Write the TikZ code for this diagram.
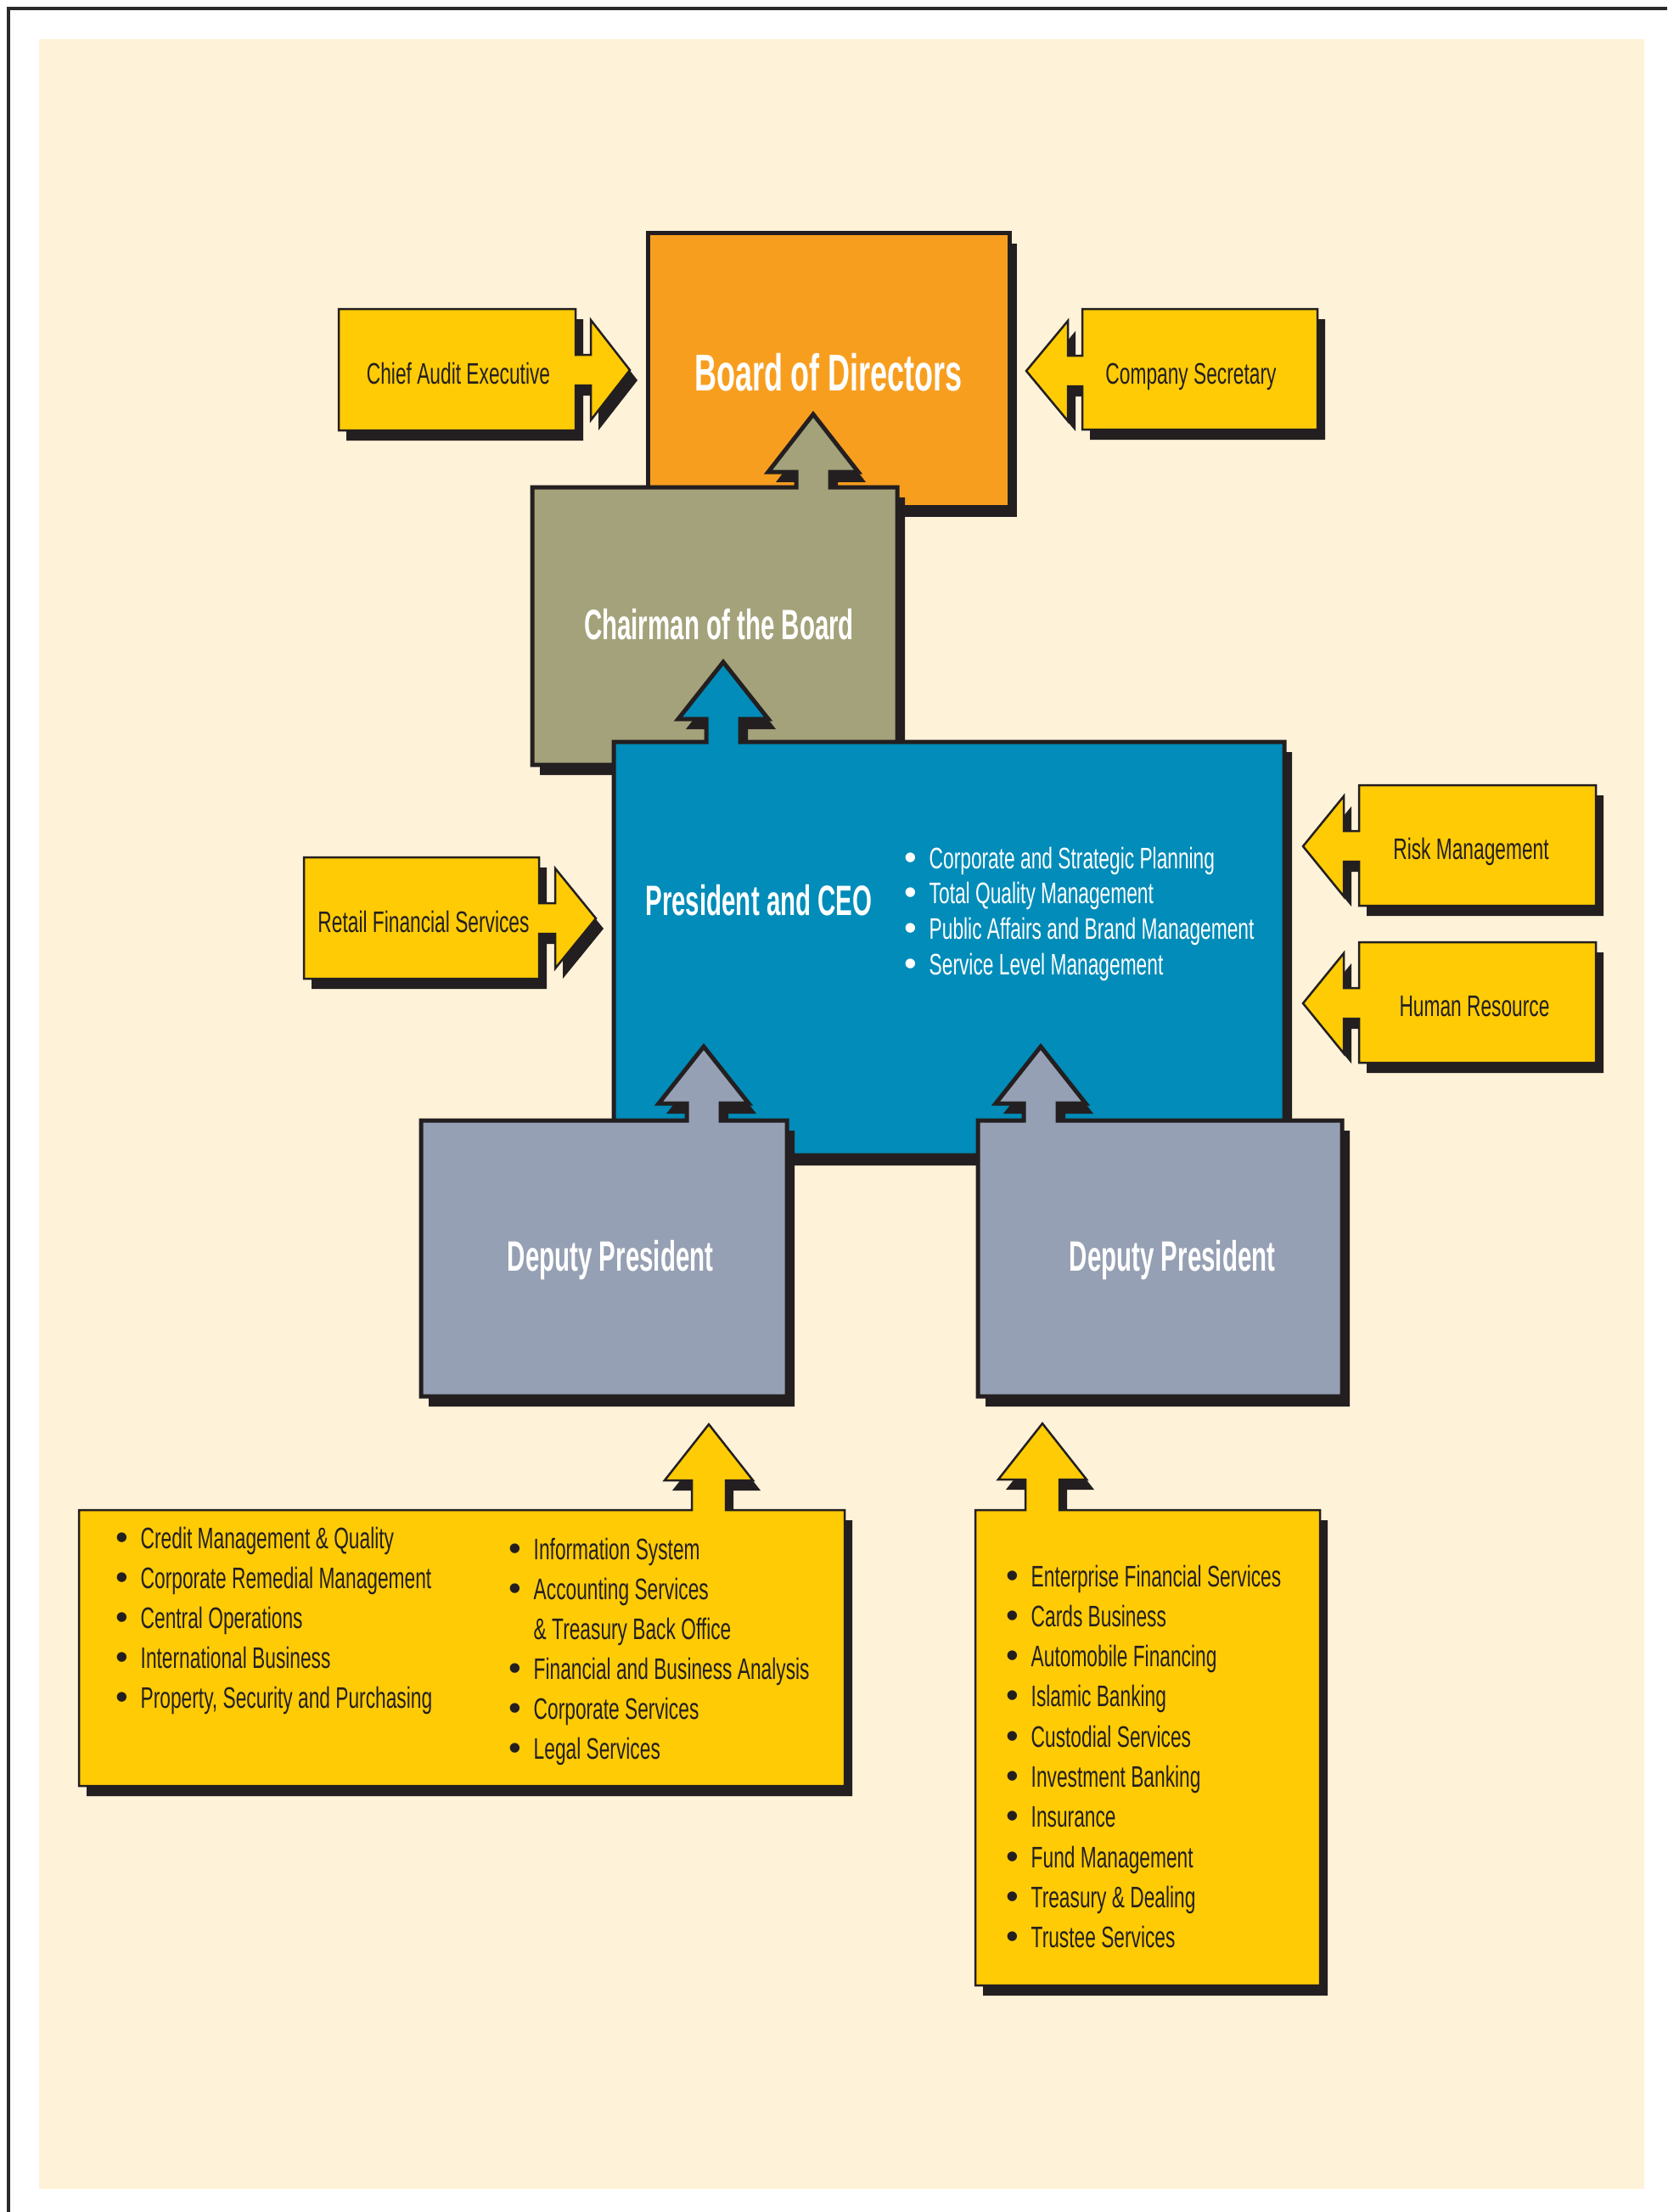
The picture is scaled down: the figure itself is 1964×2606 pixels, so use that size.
\documentclass[tikz,border=0pt]{standalone}
\usepackage{fontspec}
\setmainfont{Liberation Sans}
\newfontfamily\cond[FakeStretch=0.65]{Liberation Sans}
\newfontfamily\condb[FakeStretch=0.59]{Liberation Sans}
\definecolor{cream}{HTML}{FEF2D9}
\definecolor{orng}{HTML}{F89E1F}
\definecolor{olive}{HTML}{A4A27A}
\definecolor{cblue}{HTML}{018CB9}
\definecolor{dgray}{HTML}{96A0B4}
\definecolor{yel}{HTML}{FFCB05}
\definecolor{ink}{HTML}{231F20}
\definecolor{frame}{HTML}{2B2A2A}

\newcommand{\bul}{\makebox[29.5pt][l]{\normalfont\fontsize{42}{42}\selectfont\raisebox{-1pt}{•}}}

\tikzset{
  shadowfill/.style={fill=ink},
  bigline/.style={draw=ink, line width=5pt},
  smallline/.style={draw=ink, line width=2.5pt},
  headtext/.style={font=\condb\bfseries\fontsize{50}{60}\selectfont, text=white, inner sep=0pt, anchor=base},
  boxtext/.style={font=\cond\fontsize{35}{42}\selectfont, text=ink, inner sep=0pt, anchor=base},
  itemtext/.style={font=\cond\fontsize{35}{42}\selectfont, text=ink, inner sep=0pt, anchor=base west},
}

% box with arrow to the right: #1 style, #2 x1, #3 y1, #4 x2, #5 y2, #6 c, #7 a (head base), #8 tip
\newcommand{\rbox}[8]{%
  \fill[shadowfill, shift={(9,12)}] (#2,#3) -- (#4,#3) -- (#4,{#6-18}) -- (#7,{#6-18}) -- (#7,{#6-59}) -- (#8,#6) -- (#7,{#6+59}) -- (#7,{#6+18}) -- (#4,{#6+18}) -- (#4,#5) -- (#2,#5) -- cycle;
  \path[#1] (#2,#3) -- (#4,#3) -- (#4,{#6-18}) -- (#7,{#6-18}) -- (#7,{#6-59}) -- (#8,#6) -- (#7,{#6+59}) -- (#7,{#6+18}) -- (#4,{#6+18}) -- (#4,#5) -- (#2,#5) -- cycle;
}
% box with arrow to the left: #2 x1 (left), #4 x2 (right)
\newcommand{\lbox}[8]{%
  \fill[shadowfill, shift={(9,12)}] (#4,#3) -- (#2,#3) -- (#2,{#6-18}) -- (#7,{#6-18}) -- (#7,{#6-59}) -- (#8,#6) -- (#7,{#6+59}) -- (#7,{#6+18}) -- (#2,{#6+18}) -- (#2,#5) -- (#4,#5) -- cycle;
  \path[#1] (#4,#3) -- (#2,#3) -- (#2,{#6-18}) -- (#7,{#6-18}) -- (#7,{#6-59}) -- (#8,#6) -- (#7,{#6+59}) -- (#7,{#6+18}) -- (#2,{#6+18}) -- (#2,#5) -- (#4,#5) -- cycle;
}
% box with arrow upward: #6 c (x), #7 b (head base y), #8 tip y, #9 head half width
\newcommand{\ubox}[9]{%
  \fill[shadowfill, shift={(9,12)}] (#2,#3) -- ({#6-20},#3) -- ({#6-20},#7) -- ({#6-#9},#7) -- (#6,#8) -- ({#6+#9},#7) -- ({#6+20},#7) -- ({#6+20},#3) -- (#4,#3) -- (#4,#5) -- (#2,#5) -- cycle;
  \path[#1] (#2,#3) -- ({#6-20},#3) -- ({#6-20},#7) -- ({#6-#9},#7) -- (#6,#8) -- ({#6+#9},#7) -- ({#6+20},#7) -- ({#6+20},#3) -- (#4,#3) -- (#4,#5) -- (#2,#5) -- cycle;
}

\begin{document}
\begin{tikzpicture}[x=1pt, y=-1pt]
\useasboundingbox (0,0) rectangle (1964,2606);
\fill[white] (0,0) rectangle (1964,2606);
\draw[frame, line width=3.5pt] (10,2606) -- (10,10) -- (1964,10);
\fill[cream] (46,46) rectangle (1937,2579);

% Board of Directors
\fill[shadowfill] (772,287) rectangle (1198,609);
\filldraw[fill=orng, bigline] (763,275) rectangle (1189,597);
\node[headtext, font=\condb\bfseries\fontsize{61}{70}\selectfont] (board) at (976,460) {Board of Directors};

% side boxes top
\rbox{fill=yel, smallline}{399}{364}{678}{507}{436}{696}{742}
\node[boxtext] (audit) at (540,452) {Chief Audit Executive};
\lbox{fill=yel, smallline}{1275}{364}{1552}{506}{437}{1258}{1209}
\node[boxtext] (secretary) at (1403,452) {Company Secretary};

% Chairman
\ubox{fill=olive, bigline}{627}{574}{1057}{901}{958}{556}{488}{53}
\node[headtext] (chairman) at (847,753) {Chairman of the Board};

% President and CEO
\ubox{fill=cblue, bigline}{723}{874}{1513}{1361}{852}{847}{780}{53}
\node[headtext] (ceo) at (894,1078) {President and CEO};
\foreach \t [count=\i] in {Corporate and Strategic Planning, Total Quality Management, Public Affairs and Brand Management, Service Level Management}
  \node[itemtext, text=white, name=ceo\i] at (1065,{1023+41.7*(\i-1)}) {\bul\t};

% side boxes middle
\rbox{fill=yel, smallline}{358}{1010}{635}{1153}{1082}{654}{702}
\node[boxtext] (retail) at (499,1098) {Retail Financial Services};
\lbox{fill=yel, smallline}{1601}{925}{1880}{1067}{997}{1583}{1535}
\node[boxtext] (risk) at (1733,1012) {Risk Management};
\lbox{fill=yel, smallline}{1601}{1110}{1880}{1252}{1182}{1583}{1535}
\node[boxtext] (hr) at (1737,1197) {Human Resource};

% Deputy Presidents
\ubox{fill=dgray, bigline}{496}{1320}{927}{1645}{829}{1300}{1233}{53}
\node[headtext] (dp1) at (719,1497) {Deputy President};
\ubox{fill=dgray, bigline}{1152}{1320}{1581}{1645}{1226}{1300}{1233}{53}
\node[headtext] (dp2) at (1381,1497) {Deputy President};

% bottom lists
\ubox{fill=yel, smallline}{93}{1779}{995}{2104}{835}{1744}{1678}{52}
\foreach \t [count=\i] in {Credit Management \& Quality, Corporate Remedial Management, Central Operations, International Business, {Property, Security and Purchasing}}
  \node[itemtext, name=la\i] at (136,{1824+47*(\i-1)}) {\bul\t};
\node[itemtext] (lb1) at (599,1837) {\bul Information System};
\node[itemtext] (lb2) at (599,1884) {\bul Accounting Services};
\node[itemtext] (lb3) at (599,1931) {\makebox[29.5pt][l]{}\& Treasury Back Office};
\node[itemtext] (lb4) at (599,1978) {\bul Financial and Business Analysis};
\node[itemtext] (lb5) at (599,2025) {\bul Corporate Services};
\node[itemtext] (lb6) at (599,2072) {\bul Legal Services};

\ubox{fill=yel, smallline}{1149}{1779}{1555}{2339}{1228}{1743}{1677}{52}
\foreach \t [count=\i] in {Enterprise Financial Services, Cards Business, Automobile Financing, Islamic Banking, Custodial Services, Investment Banking, Insurance, Fund Management, Treasury \& Dealing, Trustee Services}
  \node[itemtext, name=rl\i] at (1185,{1869+47.3*(\i-1)}) {\bul\t};
\end{tikzpicture}
\end{document}
